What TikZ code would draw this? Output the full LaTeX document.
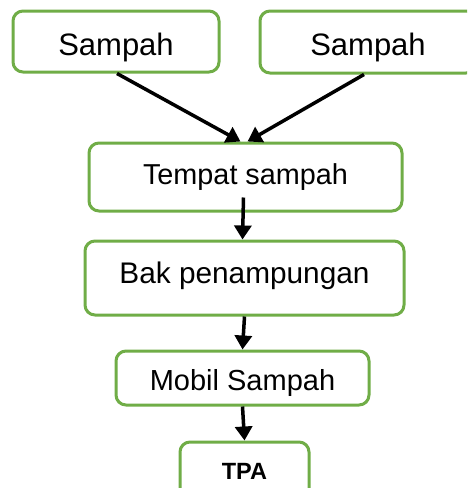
\documentclass[tikz,border=0pt]{standalone}
\usepackage{fontspec}
\setmainfont{Liberation Sans}
\usepackage{tikz}
\usetikzlibrary{positioning,arrows.meta}
\definecolor{boxgreen}{RGB}{112,173,71}

\begin{document}
\begin{tikzpicture}[
    x=1pt, y=-1pt,
    box/.style={rectangle, draw=boxgreen, fill=white, line width=3pt, rounded corners=10pt, align=center, inner sep=0pt},
    flow/.style={-{Triangle[length=14pt,width=17pt]}, line width=3.5pt, black}
]
    \useasboundingbox (0,0) rectangle (467,488);
    \clip (0,0) rectangle (467,488);

    % Sources
    \node [box, minimum width=206pt, minimum height=61pt, text height=29pt, text depth=2pt, font=\fontsize{31}{36}\selectfont] (sampahA) at (116,41.5) {Sampah};
    \node [box, minimum width=216pt, minimum height=62pt, text height=29pt, text depth=2pt, font=\fontsize{31}{36}\selectfont] (sampahB) at (368,42) {Sampah};

    % Collection chain
    \node [box, minimum width=313pt, minimum height=68pt, font=\fontsize{28.8}{34}\selectfont] (tempat) at (245.5,177) {Tempat sampah};
    \node [box, minimum width=319pt, minimum height=74pt, text height=21pt, text depth=11pt, font=\fontsize{29.8}{35}\selectfont] (bak) at (244.5,278) {Bak penampungan};
    \node [box, minimum width=253pt, minimum height=54pt, text height=26pt, text depth=2pt, font=\fontsize{29}{34}\selectfont] (mobil) at (242.5,378) {Mobil Sampah};
    \node [box, minimum width=129pt, minimum height=58pt, font=\fontsize{23.5}{28}\selectfont\bfseries] (tpa) at (244.5,471) {TPA};

    % Connections
    \draw [flow] ([xshift=1pt]sampahA.south) -- ([xshift=-5pt]tempat.north);
    \draw [flow] ([xshift=-4pt]sampahB.south) -- ([xshift=2pt]tempat.north);
    \draw [flow] ([xshift=-2pt,yshift=15pt]tempat.south) -- ([xshift=-2pt]bak.north);
    \draw [flow] (bak.south) -- (mobil.north);
    \draw [flow] (mobil.south) -- (tpa.north);
\end{tikzpicture}
\end{document}
